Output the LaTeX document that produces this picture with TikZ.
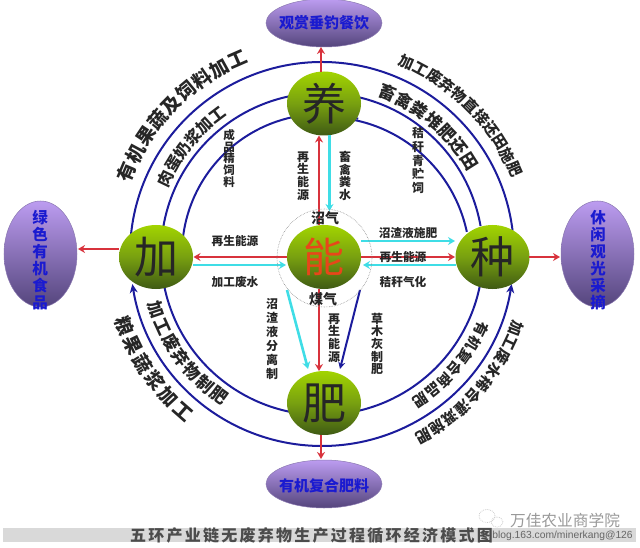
\documentclass[tikz,border=0pt]{standalone}
\usepackage{fontspec}
\setmainfont{Noto Sans CJK SC}
\setsansfont{Liberation Sans}
\usetikzlibrary{arrows.meta,calc,shapes.geometric}
\definecolor{ringblue}{HTML}{1C1C9C}
\definecolor{flowred}{HTML}{D8323C}
\definecolor{flowcyan}{HTML}{3FDDE6}
\definecolor{txtblue}{HTML}{1A1AD0}
\definecolor{ballA}{HTML}{A2D400}
\definecolor{ballM}{HTML}{78A010}
\definecolor{ballB}{HTML}{3F5A14}
\definecolor{podA}{HTML}{BC9CF0}
\definecolor{podB}{HTML}{54457C}
\definecolor{podline}{HTML}{8A78B0}
\definecolor{nengred}{HTML}{E8461A}
\tikzset{
  ball/.style={ellipse,minimum width=74pt,minimum height=64pt,inner sep=0pt,draw=none,
    top color=ballA,bottom color=ballB,middle color=ballM},
  pod/.style={ellipse,inner sep=0pt,draw=podline,line width=.5pt,top color=podA,bottom color=podB},
  bigch/.style={font=\fontsize{44pt}{44pt}\selectfont,text=black!85},
  ring/.style={draw=ringblue,line width=2pt},
  redline/.style={draw=flowred,line width=2.5pt,-{Stealth[length=7pt,width=8pt]}},
  cyanline/.style={draw=flowcyan,line width=2.6pt,-{Stealth[length=7pt,width=8pt]}},
  blueline/.style={draw=ringblue,line width=2pt,-{Stealth[length=7pt,width=7pt]}},
  small/.style={font=\fontsize{11.7pt}{11.7pt}\selectfont\bfseries,text=black!85,inner sep=0pt},
  stack/.style={small,align=center},
  podtxt/.style={font=\fontsize{15pt}{15pt}\selectfont\bfseries,text=txtblue,inner sep=0pt},
  arcch/.style={inner sep=0pt,text=black!85,font=\fontsize{#1}{#1}\selectfont\bfseries},
}
\newcommand{\arctextout}[6]{%
  \foreach \ch [count=\ii from 0] in {#6}{%
    \pgfmathsetmacro{\aa}{#3+\ii*#4}%
    \node[arcch=#5,rotate=-\aa-90] at ($(#1)+(\aa:#2)$) {\ch};}}
\newcommand{\arctextin}[6]{%
  \foreach \ch [count=\ii from 0] in {#6}{%
    \pgfmathsetmacro{\aa}{#3+\ii*#4}%
    \node[arcch=#5,rotate=-\aa+90] at ($(#1)+(\aa:#2)$) {\ch};}}
\begin{document}
\begin{tikzpicture}[x=1pt,y=-1pt]
\useasboundingbox (0,0) rectangle (640,548);
\fill[black!15] (3,528) rectangle (636,542);
\coordinate (C) at (322,254);
\coordinate (Cr) at (325,262);
\draw[ring] (C) ++(186:192) arc[start angle=186,end angle=353,radius=192];
\draw[ring] (C) ++(190:161) arc[start angle=190,end angle=350,radius=161];
\draw[ring] (C) ++(186:140) arc[start angle=186,end angle=285,radius=140];
\draw[ring] (Cr) ++(348:145) arc[start angle=348,end angle=275,radius=145];
\draw[ring] (C) ++(169:161) arc[start angle=169,end angle=11,radius=161];
\draw[ring,-{Stealth[length=9pt,width=8pt]}] (C) ++(90:192) arc[start angle=90,end angle=171,radius=192];
\draw[ring,-{Stealth[length=9pt,width=8pt]}] (C) ++(90:192) arc[start angle=90,end angle=9,radius=192];
\node[ball] (yang) at (324,103.5) {};
\node[ball] (neng) at (324,257) {};
\node[ball] (jia) at (156,257) {};
\node[ball] (zhong) at (492.5,257) {};
\node[ball] (fei) at (324,403) {};
\node[pod,minimum width=116pt,minimum height=48pt] (ptop) at (324,23) {};
\node[pod,minimum width=116pt,minimum height=48pt] (pbot) at (324,484) {};
\node[pod,minimum width=73pt,minimum height=106pt] (pleft) at (40.5,254) {};
\node[pod,minimum width=73pt,minimum height=106pt] (pright) at (597.5,254) {};
\draw[redline] (321,72) -- (321,47);
\draw[redline] (319,225) -- (319,135.5);
\draw[cyanline] (329.5,135) -- (329.5,211);
\draw[redline] (319,289) -- (319,371);
\draw[redline] (321,435) -- (321,459);
\draw[redline] (287,257) -- (193.5,257);
\draw[cyanline] (193,265) -- (286,265);
\draw[redline] (119,249) -- (78,249);
\draw[redline] (361,257) -- (455,257);
\draw[cyanline] (361,241) -- (455,241);
\draw[cyanline] (456,265) -- (363,265);
\draw[redline] (529,257) -- (560,257);
\draw[cyanline] (287,290) -- (308,369);
\draw[blueline] (360,290) -- (340,369);
\draw[black!45,line width=.6pt,densely dotted] (324.5,258) ellipse[x radius=47.5pt,y radius=49pt];
\node[inner sep=0pt,font=\fontsize{14pt}{14pt}\selectfont\bfseries,text=black!85] (zq) at (325,218) {沼气};
\node[inner sep=0pt,font=\fontsize{14pt}{14pt}\selectfont\bfseries,text=black!85] (mq) at (323,299) {煤气};
\node[bigch] at (yang) {养};
\node[bigch,text=nengred,font=\fontsize{41pt}{41pt}\selectfont] at (neng) {能};
\node[bigch] at (jia) {加};
\node[bigch] at (zhong) {种};
\node[bigch] at (fei) {肥};
\node[podtxt] at (ptop) {观赏垂钓餐饮};
\node[podtxt] at (324,486) {有机复合肥料};
\node[podtxt,align=center,font=\fontsize{15.5pt}{17pt}\selectfont\bfseries] at (40,260) {绿\\色\\有\\机\\食\\品};
\node[podtxt,align=center,font=\fontsize{15.5pt}{17pt}\selectfont\bfseries] at (598,260) {休\\闲\\观\\光\\采\\摘};
\arctextout{C}{212}{202.9}{5.44}{19pt}{有,机,果,蔬,及,饲,料,加,工}
\arctextout{C}{174}{205.8}{5.45}{16pt}{肉,蛋,奶,浆,加,工}
\arctextout{C}{210}{293.9}{4.24}{15pt}{加,工,废,弃,物,直,接,还,田,施,肥}
\arctextout{C}{174}{292.2}{5.93}{17pt}{畜,禽,粪,堆,肥,还,田}
\arctextin{C}{210}{160}{-5.74}{19pt}{粮,果,蔬,浆,加,工}
\arctextin{C}{175}{161.4}{-5.9}{17pt}{加,工,废,弃,物,制,肥}
\arctextout{C}{176}{25.4}{5.1}{14.5pt}{有,机,复,合,商,品,肥}
\arctextout{C}{208}{20.9}{4.44}{15pt}{加,工,废,水,稀,合,灌,溉,施,肥}
\node[stack,font=\fontsize{11.5pt}{11.7pt}\selectfont\bfseries] at (229,158.5) {成\\品\\精\\饲\\料};
\node[stack,font=\fontsize{12pt}{12.7pt}\selectfont\bfseries] at (303,176) {再\\生\\能\\源};
\node[stack,font=\fontsize{12pt}{12.7pt}\selectfont\bfseries] at (345,176) {畜\\禽\\粪\\水};
\node[stack,font=\fontsize{12pt}{13.7pt}\selectfont\bfseries] at (418,160.5) {秸\\秆\\青\\贮\\饲};
\node[stack,font=\fontsize{12pt}{14pt}\selectfont\bfseries] at (272,339) {沼\\渣\\液\\分\\离\\制};
\node[stack,font=\fontsize{12pt}{12.7pt}\selectfont\bfseries] at (334,338) {再\\生\\能\\源};
\node[stack,font=\fontsize{12pt}{12.7pt}\selectfont\bfseries] at (377,344) {草\\木\\灰\\制\\肥};
\node[small] at (235,241) {再生能源};
\node[small] at (235,282) {加工废水};
\node[small] at (408,233) {沼渣液施肥};
\node[small] at (403,257) {再生能源};
\node[small] at (403,282) {秸秆气化};
\node[inner sep=0pt,font=\fontsize{16pt}{16pt}\selectfont\bfseries\addfontfeature{LetterSpace=14},text=black!70] at (311.5,535) {五环产业链无废弃物生产过程循环经济模式图};
\node[inner sep=0pt,font=\fontsize{15.7pt}{16pt}\selectfont,text=black!40] at (565,520) {万佳农业商学院};
\node[inner sep=0pt,font=\sffamily\fontsize{10.3pt}{11pt}\selectfont,text=black!60] at (562.5,536) {blog.163.com/minerkang@126};
\draw[black!20,line width=.8pt,densely dotted] (487,516) ellipse[x radius=8pt,y radius=6.5pt];
\draw[black!20,line width=.8pt,densely dotted] (497,522) ellipse[x radius=6pt,y radius=5pt];
\end{tikzpicture}
\end{document}
